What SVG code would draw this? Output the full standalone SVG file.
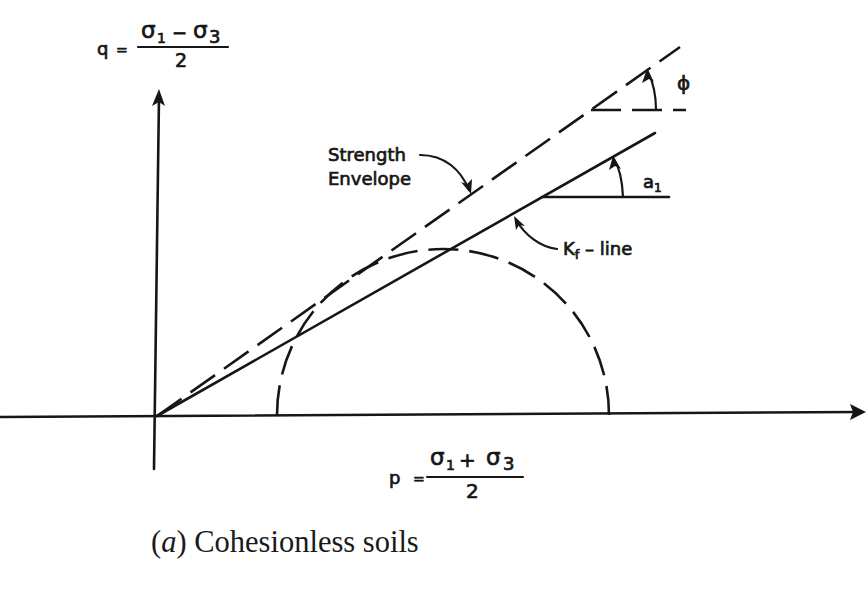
<svg xmlns="http://www.w3.org/2000/svg" width="868" height="589" viewBox="0 0 868 589">
<style>
.ln{stroke:#161616;stroke-width:2.6;fill:none;stroke-linecap:round}
.ds{stroke:#161616;stroke-width:2.6;fill:none;stroke-dasharray:30 11}
.thin{stroke:#161616;stroke-width:2.2;fill:none;stroke-linecap:round}
.t{font-family:"DejaVu Sans","Liberation Sans",sans-serif;fill:#161616;stroke:#161616;stroke-width:0.7}
.g{font-family:"DejaVu Sans","Liberation Sans",sans-serif;fill:#161616;stroke:#161616;stroke-width:0.7}
.cap{font-family:"Liberation Serif","Times New Roman",serif;fill:#1a1a1a;font-size:30.5px}
.ah{fill:#161616;stroke:none}
</style>
<rect width="868" height="589" fill="#ffffff"/>

<g id="axes">
  <line class="ln" x1="0" y1="417" x2="860" y2="412"/>
  <polygon class="ah" points="866,412 850,404 853,412 850,420"/>
  <line class="ln" x1="154" y1="469" x2="159" y2="96"/>
  <polygon class="ah" points="159,89 152,106 159,102 165,106"/>
</g>

<g id="connectors">
  <!-- Kf line -->
  <line class="ln" x1="157" y1="416" x2="655" y2="133"/>
  <!-- Strength envelope -->
  <line class="ds" x1="157" y1="416" x2="680" y2="47"/>
  <!-- Mohr circle -->
  <path class="ds" d="M 277 415 A 166 166 0 0 1 609 415" stroke-dasharray="27 12"/>
  <!-- phi reference -->
  <line class="ds" x1="591" y1="110" x2="686" y2="110" stroke-dasharray="14 16 28 6"/>
  <path class="thin" d="M 656 110 Q 656 88 648 72"/>
  <polygon class="ah" points="647,69 642,83 649,79 654,82"/>
  <!-- a1 reference -->
  <line class="ln" x1="542" y1="197" x2="669" y2="197"/>
  <path class="thin" d="M 623 197 Q 622 172 614 159"/>
  <polygon class="ah" points="613,156 609,170 615,166 621,169"/>
  <!-- label arrows -->
  <path class="thin" d="M 420 155 C 445 155 461 170 469 190"/>
  <polygon class="ah" points="471,194 461,182 467,184 472,179"/>
  <path class="thin" d="M 557 249 C 540 247 525 235 516 220"/>
  <polygon class="ah" points="514,216 516,230 519,225 525,226"/>
</g>

<g id="label-q">
  <text class="t" x="97" y="55" font-size="18">q</text>
  <text class="t" x="116" y="55" font-size="14">=</text>
  <text class="g" x="141" y="38" font-size="23">σ</text>
  <text class="t" x="157" y="43" font-size="14">1</text>
  <text class="t" x="172" y="39" font-size="18">−</text>
  <text class="g" x="193" y="38" font-size="23">σ</text>
  <text class="t" x="209" y="43" font-size="18">3</text>
  <line class="thin" x1="138" y1="47" x2="228" y2="47"/>
  <text class="t" x="175" y="67" font-size="19">2</text>
</g>

<g id="label-p">
  <text class="t" x="389" y="484" font-size="18">p</text>
  <text class="t" x="413" y="484" font-size="14">=</text>
  <text class="g" x="430" y="465" font-size="23">σ</text>
  <text class="t" x="446" y="470" font-size="14">1</text>
  <text class="t" x="459" y="467" font-size="20">+</text>
  <text class="g" x="486" y="465" font-size="23">σ</text>
  <text class="t" x="503" y="470" font-size="18">3</text>
  <line class="thin" x1="427" y1="477" x2="523" y2="477"/>
  <text class="t" x="466" y="498" font-size="20">2</text>
</g>

<g id="label-envelope">
  <text class="t" x="328" y="161" font-size="18">Strength</text>
  <text class="t" x="328" y="185" font-size="18">Envelope</text>
</g>

<g id="label-kf">
  <text class="t" x="563" y="255" font-size="18">K<tspan font-size="13" dy="4">f</tspan><tspan dy="-4"> – line</tspan></text>
</g>

<g id="label-phi">
  <text class="g" x="677" y="90" font-size="20">ϕ</text>
</g>

<g id="label-a1">
  <text class="t" x="643" y="188" font-size="18">a<tspan font-size="12" dy="4">1</tspan></text>
</g>

<g id="caption">
  <text class="cap" x="151" y="552">(<tspan font-style="italic">a</tspan>) Cohesionless soils</text>
</g>
</svg>
